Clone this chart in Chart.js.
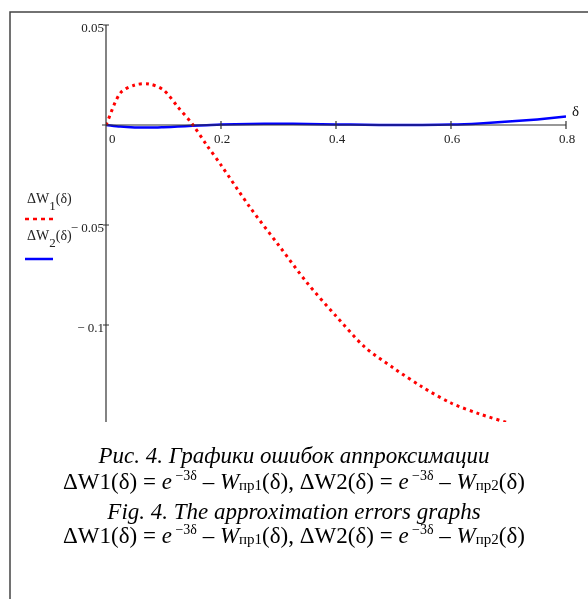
<!DOCTYPE html>
<html>
<head>
<meta charset="utf-8">
<script src="https://cdn.jsdelivr.net/npm/chart.js@4.4.1/dist/chart.umd.min.js"></script>
<style>
  body { margin: 0; background: #fff; }
  #wrap { position: relative; width: 588px; height: 599px; overflow: hidden; }
  #chart { position: absolute; left: 0; top: 0; }
  .cap { position: absolute; left: 0; width: 588px; text-align: center;
         font-family: "Liberation Serif", "Times New Roman", serif; font-size: 23px;
         color: #000; white-space: nowrap; line-height: 1; }
  .cap i { font-style: italic; }
  .cap sup { font-size: 14px; vertical-align: 9px; line-height: 0; }
  .cap .sm { font-size: 15px; vertical-align: -1px; }
</style>
</head>
<body>
<div id="wrap">
  <canvas id="chart" width="588" height="599"></canvas>
  <div class="cap" style="top:444px"><i>Рис. 4. Графики ошибок аппроксимации</i></div>
  <div class="cap" style="top:470px">ΔW1(δ) = <i>e</i><sup> −3δ</sup> – <i>W</i><span class="sm">пр1</span>(δ), ΔW2(δ) = <i>e</i><sup> −3δ</sup> – <i>W</i><span class="sm">пр2</span>(δ)</div>
  <div class="cap" style="top:500px"><i>Fig. 4. The approximation errors graphs</i></div>
  <div class="cap" style="top:524px">ΔW1(δ) = <i>e</i><sup> −3δ</sup> – <i>W</i><span class="sm">пр1</span>(δ), ΔW2(δ) = <i>e</i><sup> −3δ</sup> – <i>W</i><span class="sm">пр2</span>(δ)</div>
</div>
<script>
// δ values (shared grid)
const delta = [0, 0.025, 0.05, 0.075, 0.1, 0.125, 0.15, 0.175, 0.2, 0.25, 0.3, 0.35,
               0.4, 0.45, 0.5, 0.55, 0.6, 0.65, 0.7, 0.75, 0.8];
// ΔW1(δ) - red dotted, ends at δ = 0.7
const dW1 = [0, 0.016, 0.020, 0.0205, 0.0175, 0.009, 0.0005, -0.010, -0.020, -0.041, -0.060,
             -0.079, -0.0955, -0.111, -0.1215, -0.131, -0.139, -0.1445, -0.149];
// ΔW2(δ) - blue solid, close to zero
const dW2 = [0, -0.0008, -0.0012, -0.0013, -0.0011, -0.0008, -0.0004, -0.0001, 0.0002, 0.0005,
             0.0006, 0.0005, 0.0003, 0.0001, 0, 0, 0.0002, 0.0008, 0.0017, 0.0028, 0.0042];

const xTicks = [0, 0.2, 0.4, 0.6, 0.8];
const xTickLabels = ['0', '0.2', '0.4', '0.6', '0.8'];
const yTicks = [0.05, 0, -0.05, -0.1];
const yTickLabels = ['0.05', '', '\u2212 0.05', '\u2212 0.1'];

const serif = '"Liberation Serif", "Times New Roman", serif';

// axes, ticks, labels, legend and frame drawn Mathcad-style
const mathcadAxes = {
    id: 'mathcadAxes',
    afterDatasetsDraw(chart) {
        const ctx = chart.ctx;
        const xs = chart.scales.x, ys = chart.scales.y;
        const x0 = xs.getPixelForValue(0);
        const y0 = ys.getPixelForValue(0);
        const yTop = ys.getPixelForValue(ys.max);
        const yBot = ys.getPixelForValue(ys.min);
        const xEnd = xs.getPixelForValue(xs.max);

        ctx.save();
        // outer frame (top and left)
        ctx.strokeStyle = '#444';
        ctx.lineWidth = 1.5;
        ctx.beginPath();
        ctx.moveTo(588, 12); ctx.lineTo(10, 12); ctx.lineTo(10, 599);
        ctx.stroke();

        // axes
        ctx.strokeStyle = '#333';
        ctx.lineWidth = 1.2;
        ctx.beginPath();
        ctx.moveTo(x0, yTop); ctx.lineTo(x0, yBot);
        ctx.moveTo(x0 - 4, y0); ctx.lineTo(xEnd, y0);
        ctx.stroke();

        // ticks + labels
        ctx.fillStyle = '#222';
        ctx.font = '13px ' + serif;
        ctx.textBaseline = 'alphabetic';
        ctx.beginPath();
        xTicks.forEach((v, i) => {
            const px = xs.getPixelForValue(v);
            if (v !== 0) { ctx.moveTo(px, y0 - 4); ctx.lineTo(px, y0 + 4); }
            ctx.textAlign = v === 0 ? 'left' : 'center';
            ctx.fillText(xTickLabels[i], v === 0 ? px + 3 : px + 1, y0 + 18);
        });
        yTicks.forEach((v, i) => {
            const py = ys.getPixelForValue(v);
            if (v !== 0) { ctx.moveTo(x0 - 3, py); ctx.lineTo(x0 + 3, py); }
            ctx.textAlign = 'right';
            if (yTickLabels[i]) ctx.fillText(yTickLabels[i], x0 - 2, py + 7);
        });
        ctx.stroke();

        // axis variable
        ctx.font = '15px ' + serif;
        ctx.textAlign = 'left';
        ctx.fillStyle = '#111';
        ctx.fillText('δ', xEnd + 6, y0 - 9);

        // legend
        const drawName = (sub, x, y) => {
            ctx.font = '14px ' + serif;
            ctx.textAlign = 'left';
            ctx.fillStyle = '#222';
            ctx.fillText('ΔW', x, y);
            let w = ctx.measureText('ΔW').width;
            ctx.font = '13px ' + serif;
            ctx.fillText(sub, x + w, y + 7);
            w += ctx.measureText(sub).width;
            ctx.font = '14px ' + serif;
            ctx.fillText('(δ)', x + w, y);
        };
        drawName('1', 27, 203);
        ctx.strokeStyle = '#ff0000';
        ctx.lineWidth = 2.5;
        ctx.setLineDash([4, 4]);
        ctx.beginPath(); ctx.moveTo(25, 219); ctx.lineTo(54, 219); ctx.stroke();
        ctx.setLineDash([]);
        drawName('2', 27, 240);
        ctx.strokeStyle = '#0000ff';
        ctx.lineWidth = 2.5;
        ctx.beginPath(); ctx.moveTo(25, 259); ctx.lineTo(53, 259); ctx.stroke();
        ctx.restore();
    }
};

new Chart(document.getElementById('chart'), {
    type: 'line',
    data: {
        datasets: [{
            label: 'ΔW1(δ)',
            data: dW1.map((v, i) => ({ x: delta[i], y: v })),
            borderColor: '#ff0000',
            borderWidth: 3,
            borderDash: [3, 4],
            pointRadius: 0,
            tension: 0.3,
            fill: false
        }, {
            label: 'ΔW2(δ)',
            data: dW2.map((v, i) => ({ x: delta[i], y: v })),
            borderColor: '#0000ff',
            borderWidth: 2.5,
            pointRadius: 0,
            tension: 0.3,
            fill: false
        }]
    },
    options: {
        responsive: false,
        animation: false,
        events: [],
        layout: { padding: { left: 106, right: 22, top: 25, bottom: 177 } },
        plugins: { legend: { display: false }, tooltip: { enabled: false } },
        scales: {
            x: { type: 'linear', min: 0, max: 0.8, display: false },
            y: { type: 'linear', min: -0.1485, max: 0.05, display: false }
        }
    },
    plugins: [mathcadAxes]
});
</script>
</body>
</html>
